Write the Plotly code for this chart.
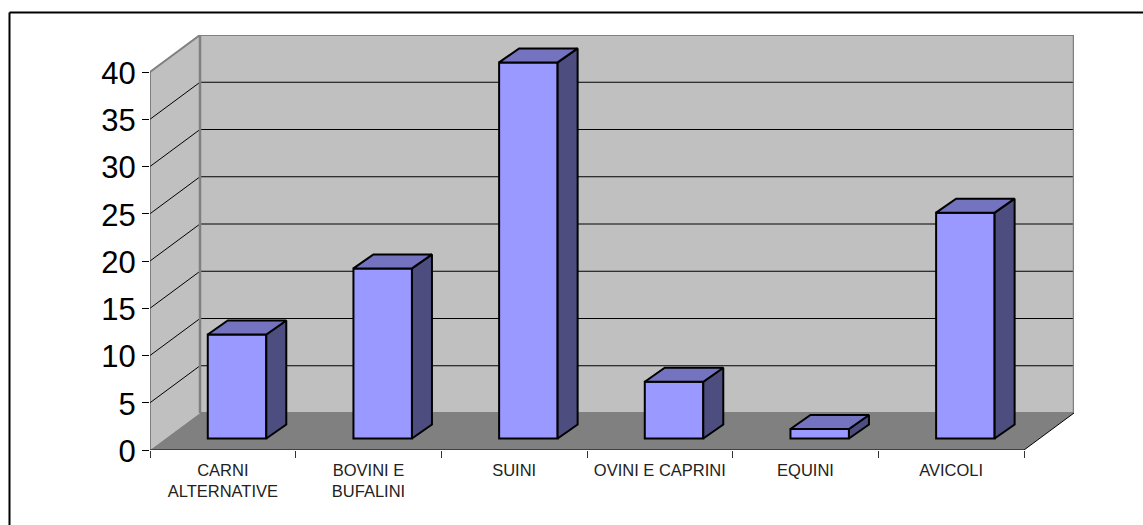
import plotly.graph_objects as go

categories = ["CARNI<br>ALTERNATIVE", "BOVINI E<br>BUFALINI", "SUINI", "OVINI E CAPRINI", "EQUINI", "AVICOLI"]
values = [11, 18, 39.8, 6, 1, 23.9]
y_ticks = [0, 5, 10, 15, 20, 25, 30, 35, 40]

W, H = 1143, 525
L, R, T, B = 150, 1074, 35, 450
PX_X = 874 / 6          # pixels per category
PX_Y = 378 / 40         # pixels per unit
n = len(categories)

wall_dx, wall_dy = 50 / PX_X, 37 / PX_Y     # depth of the chart box
bar_dx, bar_dy = 20 / PX_X, 14 / PX_Y       # depth of one bar
bar_w = 58.5 / PX_X
bar_shift = 14.2 / PX_X
bar_base = 11.5 / PX_Y

x_end = n + wall_dx
y_end = (B - T) / PX_Y

GREY = "#808080"
shapes = []
def poly(pts, fill, line=None, lw=0):
    path = "M" + "L".join(f"{a},{b}" for a, b in pts) + "Z"
    shapes.append(dict(type="path", path=path, fillcolor=fill, layer="below",
                       line=dict(color=line or fill, width=lw)))
def seg(x0, y0, x1, y1, color="black", lw=1):
    shapes.append(dict(type="line", x0=x0, y0=y0, x1=x1, y1=y1, layer="below",
                       line=dict(color=color, width=lw)))

top = y_ticks[-1]
poly([(wall_dx, wall_dy), (x_end, wall_dy), (x_end, wall_dy + top), (wall_dx, wall_dy + top)], "#c0c0c0")
poly([(0, 0), (wall_dx, wall_dy), (wall_dx, wall_dy + top), (0, top)], "#c0c0c0")
poly([(0, 0), (n, 0), (x_end, wall_dy), (wall_dx, wall_dy)], GREY)
for v in y_ticks[1:-1]:
    seg(0, v, wall_dx, v + wall_dy)
    seg(wall_dx, v + wall_dy, x_end, v + wall_dy)
seg(0, top, wall_dx, top + wall_dy, GREY, 2)
seg(wall_dx, wall_dy, wall_dx, wall_dy + top, GREY, 2.5)
seg(wall_dx, wall_dy + top, x_end, wall_dy + top, GREY, 2)
seg(x_end, wall_dy, x_end, wall_dy + top, GREY, 2.5)
seg(wall_dx, wall_dy, x_end, wall_dy, GREY, 2)
seg(n, 0, x_end, wall_dy)
seg(0, 0, n, 0)
seg(0, 0, 0, top, "#404040")

# outer frame: only the top and left edges are visible in the picture
shapes.append(dict(type="line", xref="paper", yref="paper",
                   x0=(9.5 - L) / (R - L), x1=(W - L) / (R - L),
                   y0=(B - 12.5) / (B - T), y1=(B - 12.5) / (B - T),
                   line=dict(color="black", width=2)))
shapes.append(dict(type="line", xref="paper", yref="paper",
                   x0=(9.5 - L) / (R - L), x1=(9.5 - L) / (R - L),
                   y0=(B - 12.5) / (B - T), y1=(B - H) / (B - T),
                   line=dict(color="black", width=2)))

centers = [i + 0.5 + bar_shift for i in range(n)]

fig = go.Figure()
fig.add_trace(go.Bar(x=centers, y=values, base=[bar_base] * n, width=[bar_w] * n,
                     marker=dict(color="#9999ff", line=dict(color="black", width=2)),
                     hoverinfo="skip", showlegend=False))

side_x, side_y, top_x, top_y = [], [], [], []
for c, v in zip(centers, values):
    x0, x1 = c - bar_w / 2, c + bar_w / 2
    b0, b1 = bar_base, bar_base + v
    side_x += [x1, x1 + bar_dx, x1 + bar_dx, x1, x1, None]
    side_y += [b0, b0 + bar_dy, b1 + bar_dy, b1, b0, None]
    top_x += [x0, x1, x1 + bar_dx, x0 + bar_dx, x0, None]
    top_y += [b1, b1, b1 + bar_dy, b1 + bar_dy, b1, None]
fig.add_trace(go.Scatter(x=side_x, y=side_y, mode="lines", fill="toself", fillcolor="#4d4d80",
                         line=dict(color="black", width=2), hoverinfo="skip", showlegend=False))
fig.add_trace(go.Scatter(x=top_x, y=top_y, mode="lines", fill="toself", fillcolor="#7373bf",
                         line=dict(color="black", width=2), hoverinfo="skip", showlegend=False))

fig.update_layout(
    width=W, height=H, autosize=False,
    margin=dict(l=L, r=W - R, t=T, b=H - B, pad=0),
    paper_bgcolor="white", plot_bgcolor="white",
    font=dict(family="Liberation Sans, Arial, sans-serif", color="black"),
    shapes=shapes, barmode="overlay",
    xaxis=dict(range=[0, x_end], showgrid=False, zeroline=False, showline=False,
               tickmode="array", tickvals=[i + 0.5 for i in range(n)], ticktext=categories,
               ticks="outside", ticklen=5, tickcolor="rgba(0,0,0,0)", tickangle=0,
               tickfont=dict(size=16.5, color="#222222"),
               minor=dict(tickmode="array", tickvals=list(range(n + 1)), ticks="outside",
                          ticklen=7, tickcolor="#333333", tickwidth=1, showgrid=False)),
    yaxis=dict(range=[0, y_end], showgrid=False, zeroline=False, showline=False,
               tickmode="array", tickvals=y_ticks, ticks="outside", ticklen=7,
               ticklabelshift=1,
               tickcolor="black", tickwidth=1, tickfont=dict(size=31, color="black")),
)

fig.write_html("out.html", config={"displayModeBar": False},
               post_script="document.body.style.margin='0';document.body.style.overflow='hidden';")
